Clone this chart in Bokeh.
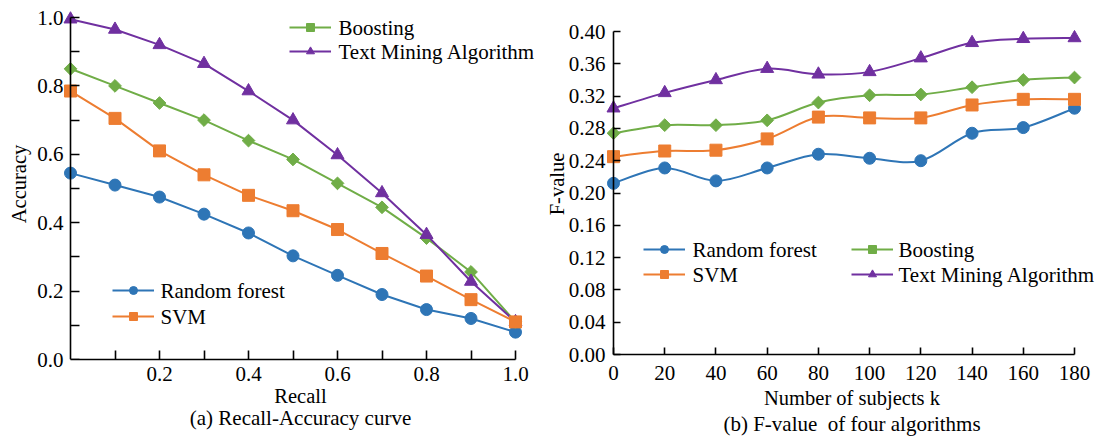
import math
from bokeh.plotting import figure
from bokeh.layouts import row
from bokeh.models import (Range1d, FixedTicker, NumeralTickFormatter, Legend,
                          LegendItem, Title, LinearAxis, Label)
from bokeh.embed import file_html
from bokeh.resources import INLINE

FONT = "Liberation Serif, Times New Roman, serif"

# ---------------- data: (a) Recall-Accuracy curve ----------------
recall = [0.0, 0.1, 0.2, 0.3, 0.4, 0.5, 0.6, 0.7, 0.8, 0.9, 1.0]
rf_acc = [0.545, 0.51, 0.475, 0.425, 0.37, 0.303, 0.246, 0.19, 0.146, 0.12, 0.08]
svm_acc = [0.785, 0.705, 0.61, 0.54, 0.48, 0.435, 0.38, 0.31, 0.244, 0.175, 0.11]
boost_acc = [0.85, 0.80, 0.75, 0.70, 0.64, 0.585, 0.515, 0.445, 0.355, 0.256, 0.11]
tma_acc = [0.995, 0.965, 0.92, 0.865, 0.785, 0.70, 0.598, 0.487, 0.365, 0.228, 0.11]

# ---------------- data: (b) F-value of four algorithms ----------------
subjects_k = [0, 20, 40, 60, 80, 100, 120, 140, 160, 180]
rf_f = [0.212, 0.231, 0.215, 0.231, 0.248, 0.243, 0.240, 0.274, 0.281, 0.305]
svm_f = [0.245, 0.252, 0.253, 0.267, 0.294, 0.293, 0.293, 0.309, 0.316, 0.316]
boost_f = [0.274, 0.284, 0.284, 0.290, 0.312, 0.321, 0.322, 0.331, 0.340, 0.343]
tma_f = [0.305, 0.324, 0.340, 0.354, 0.347, 0.350, 0.367, 0.386, 0.391, 0.392]

x_ticks_a = [0.2, 0.4, 0.6, 0.8, 1.0]
x_minor_a = [0.1, 0.3, 0.5, 0.7, 0.9]
y_ticks_a = [0.0, 0.2, 0.4, 0.6, 0.8, 1.0]
y_minor_a = [0.1, 0.3, 0.5, 0.7, 0.9]
x_ticks_b = [0, 20, 40, 60, 80, 100, 120, 140, 160, 180]
y_ticks_b = [0.0, 0.04, 0.08, 0.12, 0.16, 0.20, 0.24, 0.28, 0.32, 0.36, 0.40]

names = ["Random forest", "SVM", "Boosting", "Text Mining Algorithm"]
colors = ["#2E75B6", "#ED7D31", "#70AD47", "#7030A0"]
markers = [("circle", 12, 0.0), ("square", 12, 0.0), ("square", 9, math.pi / 4), ("triangle", 13, 0.0)]

TICK_FS = "21px"
TEXT_FS = "20.5px"
LEG_FS = "21px"


def line_tick_style(ax, tin, tout):
    ax.axis_line_color = "black"
    ax.axis_line_width = 1.6
    ax.major_tick_line_color = "black"
    ax.major_tick_line_width = 1.6
    ax.minor_tick_line_color = "black"
    ax.minor_tick_line_width = 1.6
    ax.major_tick_in = tin
    ax.major_tick_out = tout
    ax.minor_tick_in = tin
    ax.minor_tick_out = tout


def text_only(ax, std):
    ax.axis_line_color = None
    ax.major_tick_line_color = None
    ax.minor_tick_line_color = None
    ax.major_tick_in = 0
    ax.major_tick_out = 0
    ax.minor_tick_in = 0
    ax.minor_tick_out = 0
    ax.major_label_text_font = FONT
    ax.major_label_text_font_size = TICK_FS
    ax.major_label_text_color = "black"
    ax.major_label_standoff = std


def fixed_axis(loc, ticks, minor, bounds, tin, tout):
    ax = LinearAxis(fixed_location=loc, ticker=FixedTicker(ticks=ticks, minor_ticks=minor),
                    bounds=bounds, major_label_text_font_size="0px",
                    major_label_text_alpha=0, major_label_standoff=0)
    line_tick_style(ax, tin, tout)
    return ax


def caption(p, text, place, standoff, offset, size=TEXT_FS):
    p.add_layout(Title(text=text, align="center", text_font=FONT, text_font_size=size,
                       text_font_style="normal", text_color="black",
                       standoff=standoff, offset=offset), place)


def base_style(p):
    p.outline_line_color = None
    p.xgrid.visible = False
    p.ygrid.visible = False
    p.background_fill_color = "white"
    p.border_fill_color = "white"


GW, GH = 42, 20


def add_legend(p, entries, loc, standoff, spacing):
    items = [LegendItem(label=" ", renderers=r) for _, r in entries]
    p.add_layout(Legend(items=items, location=loc, orientation="vertical",
                        glyph_width=GW, glyph_height=GH, label_height=GH, label_width=1,
                        label_standoff=standoff, spacing=spacing, padding=0, margin=0,
                        border_line_color=None, background_fill_alpha=0,
                        label_text_font_size="1px"))
    n = len(entries)
    for i, (name, _) in enumerate(entries):
        sx = loc[0] + GW + standoff
        sy = loc[1] + (n - 1 - i) * (GH + spacing) + GH / 2
        p.add_layout(Label(x=sx, y=sy, x_units="screen", y_units="screen",
                           text=name, text_align="left", text_baseline="middle",
                           text_font=FONT, text_font_size=LEG_FS, text_font_style="normal",
                           text_color="black"))


# ---------------- left figure: frame x 62..538, y 8..359 ----------------
pa = figure(width=540, height=437,
            x_range=Range1d(-8 / 445, 1 + 23 / 445), y_range=Range1d(0, 1 + 9 / 342),
            output_backend="svg", toolbar_location=None,
            min_border_left=62, min_border_right=2, min_border_top=8, min_border_bottom=78)
base_style(pa)
xa = pa.xaxis[0]
xa.ticker = FixedTicker(ticks=x_ticks_a, minor_ticks=x_minor_a)
xa.formatter = NumeralTickFormatter(format="0.0")
text_only(xa, 7)
line_tick_style(xa, 9, 0)
xa.bounds = (0, 1)
ya = pa.yaxis[0]
ya.ticker = FixedTicker(ticks=y_ticks_a)
ya.formatter = NumeralTickFormatter(format="0.0")
text_only(ya, -1)
pa.add_layout(fixed_axis(0, y_ticks_a, y_minor_a, (0, 1), 9, 0), "left")
caption(pa, "Accuracy", "left", 9, -6)
caption(pa, "Recall", "below", -2, -7)
caption(pa, "(a) Recall-Accuracy curve", "below", -4, -12, "21px")

series_a = [rf_acc, svm_acc, boost_acc, tma_acc]
rend_a = {}
for i in [0, 2, 3, 1]:
    ln = pa.line(recall, series_a[i], line_color=colors[i], line_width=2)
    m, s, ang = markers[i]
    sc = pa.scatter(recall, series_a[i], marker=m, size=s, angle=ang,
                    fill_color=colors[i], line_color=colors[i])
    rend_a[i] = [ln, sc]

add_legend(pa, [(names[2], rend_a[2]), (names[3], rend_a[3])], (227, 298), 7, 4)
add_legend(pa, [(names[0], rend_a[0]), (names[1], rend_a[1])], (50, 33), 6, 6)


# ---------------- right figure: frame x 605..1098, y 8..359 ----------------
def bezier_controls(xs, ys):
    n = len(xs)
    cx0, cy0, cx1, cy1 = [], [], [], []
    for i in range(n - 1):
        a = max(i - 1, 0)
        b = min(i + 2, n - 1)
        cx0.append(xs[i] + (xs[i + 1] - xs[a]) / 6)
        cy0.append(ys[i] + (ys[i + 1] - ys[a]) / 6)
        cx1.append(xs[i + 1] - (xs[b] - xs[i]) / 6)
        cy1.append(ys[i + 1] - (ys[b] - ys[i]) / 6)
    return dict(x0=xs[:-1], y0=ys[:-1], x1=xs[1:], y1=ys[1:],
                cx0=cx0, cy0=cy0, cx1=cx1, cy1=cy1)


pb = figure(width=558, height=437,
            x_range=Range1d(-8 * 180 / 461, 180 + 24 * 180 / 461),
            y_range=Range1d(-5 * 0.4 / 323, 0.4 + 23 * 0.4 / 323),
            output_backend="svg", toolbar_location=None,
            min_border_left=65, min_border_right=0, min_border_top=8, min_border_bottom=78)
base_style(pb)
xb = pb.xaxis[0]
xb.ticker = FixedTicker(ticks=x_ticks_b)
xb.formatter = NumeralTickFormatter(format="0")
text_only(xb, 6)
yb = pb.yaxis[0]
yb.ticker = FixedTicker(ticks=y_ticks_b)
yb.formatter = NumeralTickFormatter(format="0.00")
text_only(yb, 0)
pb.add_layout(fixed_axis(0, y_ticks_b, [], (0, 0.4), 7, 0), "left")
pb.add_layout(fixed_axis(0, x_ticks_b, [], (0, 180), 0, 7), "above")
caption(pb, "F-value", "left", -4, -4)
caption(pb, "Number of subjects k", "below", 4, -2)
caption(pb, "(b) F-value\u00a0 of four algorithms", "below", -1, -8, "21px")

series_b = [rf_f, svm_f, boost_f, tma_f]
rend_b = {}
for i in range(4):
    bz = pb.bezier(**bezier_controls(subjects_k, series_b[i]), line_color=colors[i], line_width=2)
    m, s, ang = markers[i]
    sc = pb.scatter(subjects_k, series_b[i], marker=m, size=s, angle=ang,
                    fill_color=colors[i], line_color=colors[i])
    rend_b[i] = [bz, sc]

add_legend(pb, [(names[0], rend_b[0]), (names[1], rend_b[1])], (38, 75), 7, 5)
add_legend(pb, [(names[2], rend_b[2]), (names[3], rend_b[3])], (246, 75), 5, 5)

layout = row(pa, pb)
open("out.html", "w").write(file_html(layout, INLINE))
